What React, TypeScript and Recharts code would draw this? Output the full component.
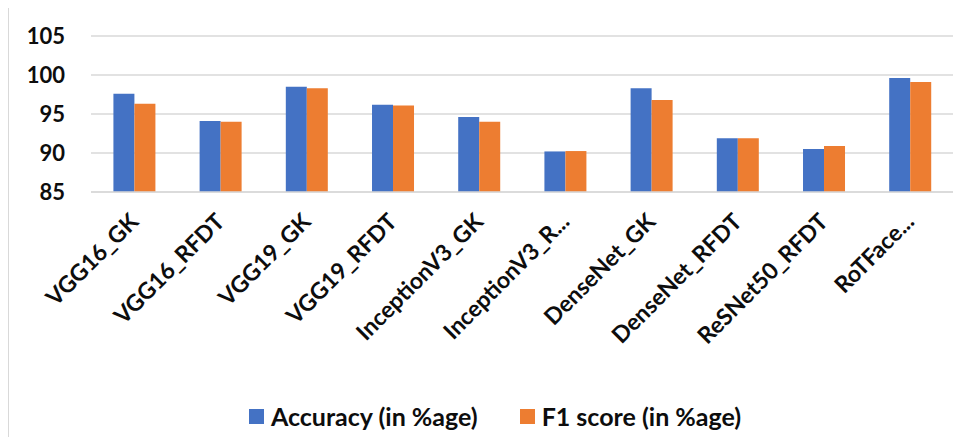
import React from 'react';
import { BarChart, Bar, XAxis, YAxis, CartesianGrid, Legend } from 'recharts';

const categories = [
  'VGG16_GK', 'VGG16_RFDT', 'VGG19_GK', 'VGG19_RFDT', 'InceptionV3_GK',
  'InceptionV3_R...', 'DenseNet_GK', 'DenseNet_RFDT', 'ReSNet50_RFDT', 'RoTFace...',
];
const accuracy = [97.6, 94.1, 98.5, 96.2, 94.6, 90.2, 98.3, 91.9, 90.5, 99.6];
const f1Score = [96.3, 94.0, 98.3, 96.1, 94.0, 90.25, 96.8, 91.9, 90.9, 99.1];
const yTicks = [85, 90, 95, 100, 105];

const FONT = 'Lato, "Liberation Sans", sans-serif';
const BLUE = '#4472C4';
const ORANGE = '#ED7D31';
const GRID = '#D9D9D9';

const data = categories.map((name, i) => ({ name, accuracy: accuracy[i], f1: f1Score[i] }));

function XTick({ x, y, payload }: any) {
  const ty = y + 23.5;
  return (
    <text
      x={x}
      y={ty}
      dy="0.35em"
      textAnchor="end"
      transform={`rotate(-45, ${x}, ${ty})`}
      fontFamily={FONT}
      fontWeight="bold"
      fontSize={23}
      fill="#0d0d0d"
    >
      {payload.value}
    </text>
  );
}

function LegendBox({ payload }: any) {
  return (
    <div style={{ display: 'flex', justifyContent: 'center', paddingLeft: 18, fontFamily: FONT, fontWeight: 'bold', fontSize: 25, color: '#0d0d0d' }}>
      {(payload || []).map((p: any, i: number) => (
        <div key={i} style={{ display: 'flex', alignItems: 'center', marginRight: i === 0 ? 42 : 0 }}>
          <span style={{ width: 15, height: 15, background: p.color, marginRight: 7, display: 'inline-block' }} />
          <span style={{ lineHeight: '28px' }}>{p.value}</span>
        </div>
      ))}
    </div>
  );
}

export default function App() {
  return (
    <div style={{ position: 'relative', width: 972, height: 437, margin: '-8px 0 0 -8px', overflow: 'hidden', background: '#fff' }}>
      <div style={{ position: 'absolute', left: 8, top: 6, width: 1000, height: 500, border: `1.5px solid ${GRID}`, boxSizing: 'border-box' }} />
      <div style={{ position: 'absolute', left: 0, top: 0 }}>
        <BarChart
          width={972}
          height={437}
          data={data}
          margin={{ top: 36, right: 19, left: 0, bottom: 0 }}
          barCategoryGap="26%"
          barGap={0}
        >
          <CartesianGrid vertical={false} stroke={GRID} strokeWidth={1.5} />
          <XAxis
            dataKey="name"
            height={245}
            interval={0}
            tickLine={false}
            tickSize={0}
            axisLine={{ stroke: GRID, strokeWidth: 1.5 }}
            tick={<XTick />}
          />
          <YAxis
            width={91}
            domain={[85, 105]}
            ticks={yTicks}
            axisLine={false}
            tickLine={false}
            tickSize={0}
            tickMargin={26}
            tick={{ fontFamily: FONT, fontWeight: 'bold', fontSize: 22, fill: '#0d0d0d' }}
          />
          <Legend
            verticalAlign="middle"
            align="center"
            layout="horizontal"
            wrapperStyle={{ top: 402, left: 0, width: 972 }}
            content={<LegendBox />}
          />
          <Bar dataKey="accuracy" name="Accuracy (in %age)" fill={BLUE} isAnimationActive={false} />
          <Bar dataKey="f1" name="F1 score (in %age)" fill={ORANGE} isAnimationActive={false} />
        </BarChart>
      </div>
    </div>
  );
}
